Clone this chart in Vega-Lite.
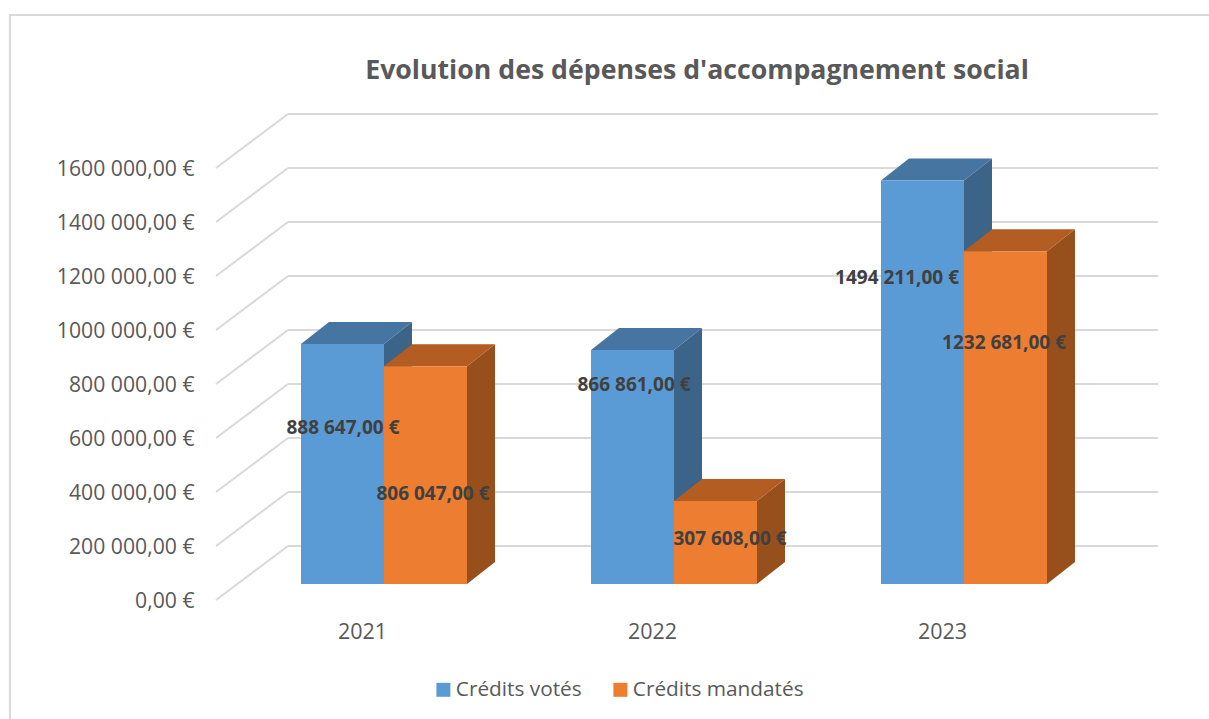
{"$schema":"https://vega.github.io/schema/vega-lite/v6.json","autosize":{"type":"none"},"width":942,"height":486,"padding":{"left":216,"top":114,"right":51,"bottom":119},"background":"white","title":{"text":"Evolution des dépenses d'accompagnement social","font":"Open Sans","fontSize":26.7,"fontWeight":"bold","color":"#595959","anchor":"middle","dx":10,"offset":-71,"frame":"group"},"config":{"view":{"stroke":null},"font":"Open Sans"},"resolve":{"axis":{"x":"independent","y":"independent"}},"datasets":{"bars":[{"year":2021,"series":"Crédits votés","value":888647},{"year":2021,"series":"Crédits mandatés","value":806047},{"year":2022,"series":"Crédits votés","value":866861},{"year":2022,"series":"Crédits mandatés","value":307608},{"year":2023,"series":"Crédits votés","value":1494211},{"year":2023,"series":"Crédits mandatés","value":1232681}],"grid":[{"v":0},{"v":200000},{"v":400000},{"v":600000},{"v":800000},{"v":1000000},{"v":1200000},{"v":1400000},{"v":1600000}]},"layer":[{"data":{"values":[{"k":1}]},"mark":{"type":"rect","filled":false,"stroke":"#d9d9d9","strokeWidth":2},"encoding":{"x":{"datum":2019.786,"type":"quantitative","scale":{"domain":[2020.49655,2023.74483],"nice":false,"zero":false},"axis":null},"x2":{"datum":2024.5},"y":{"datum":2166667,"type":"quantitative","scale":{"domain":[0,1800000],"nice":false},"axis":null},"y2":{"datum":-900000}}},{"data":{"name":"grid"},"transform":[{"calculate":"2020.49655","as":"xa"},{"calculate":"2020.74483","as":"xb"},{"calculate":"datum.v+200000","as":"v2"}],"mark":{"type":"rule","color":"#d9d9d9","strokeWidth":2},"encoding":{"x":{"field":"xa","type":"quantitative","scale":{"domain":[2020.49655,2023.74483],"nice":false,"zero":false},"axis":{"title":null,"values":[2021,2022,2023],"format":"d","grid":false,"domain":false,"ticks":false,"labelPadding":21,"labelFont":"Open Sans","labelFontSize":21.5,"labelColor":"#595959"}},"x2":{"field":"xb"},"y":{"field":"v","type":"quantitative","scale":{"domain":[0,1800000],"nice":false},"axis":{"title":null,"values":[0,200000,400000,600000,800000,1000000,1200000,1400000,1600000],"labelExpr":"datum.value==0?'0,00 €':floor(datum.value/1000)+' 000,00 €'","grid":false,"domain":false,"ticks":false,"labelPadding":22,"labelOffset":1.5,"labelFont":"Open Sans","labelFontSize":21.2,"labelColor":"#595959"}},"y2":{"field":"v2"}}},{"data":{"name":"grid"},"transform":[{"calculate":"2020.74483","as":"xb"},{"calculate":"2023.74483","as":"xc"},{"calculate":"datum.v+200000","as":"v2"}],"mark":{"type":"rule","color":"#d9d9d9","strokeWidth":2},"encoding":{"x":{"field":"xb","type":"quantitative","scale":{"domain":[2020.49655,2023.74483],"nice":false,"zero":false},"axis":null},"x2":{"field":"xc"},"y":{"field":"v2","type":"quantitative","scale":{"domain":[0,1800000],"nice":false},"axis":null}}},{"data":{"name":"bars"},"transform":[{"filter":"datum.series=='Crédits votés'"},{"calculate":"[0,1]","as":"t"},{"flatten":["t"]},{"calculate":"datum.year+0.07586+datum.t*0.09655","as":"px"},{"calculate":"59259+datum.t*81481","as":"py"},{"calculate":"59259+datum.value+datum.t*81481","as":"py2"}],"mark":{"type":"area","color":"#3B6488","orient":"vertical"},"encoding":{"detail":{"field":"year"},"x":{"field":"px","type":"quantitative","scale":{"domain":[2020.49655,2023.74483],"nice":false,"zero":false},"axis":null},"y":{"field":"py","type":"quantitative","scale":{"domain":[0,1800000],"nice":false},"axis":null},"y2":{"field":"py2"}}},{"data":{"name":"bars"},"transform":[{"filter":"datum.series=='Crédits votés'"},{"calculate":"[0,1]","as":"t"},{"flatten":["t"]},{"calculate":"datum.year-0.21034+datum.t*0.09655","as":"px"},{"calculate":"datum.year+0.07586+datum.t*0.09655","as":"px2"},{"calculate":"59259+datum.value+datum.t*81481","as":"py"}],"mark":{"type":"area","color":"#4675A1","orient":"horizontal"},"encoding":{"detail":{"field":"year"},"x":{"field":"px","type":"quantitative","scale":{"domain":[2020.49655,2023.74483],"nice":false,"zero":false},"axis":null},"x2":{"field":"px2"},"y":{"field":"py","type":"quantitative","scale":{"domain":[0,1800000],"nice":false},"axis":null}}},{"data":{"name":"bars"},"transform":[{"filter":"datum.series=='Crédits mandatés'"},{"calculate":"[0,1]","as":"t"},{"flatten":["t"]},{"calculate":"datum.year+0.36207+datum.t*0.09655","as":"px"},{"calculate":"59259+datum.t*81481","as":"py"},{"calculate":"59259+datum.value+datum.t*81481","as":"py2"}],"mark":{"type":"area","color":"#97501C","orient":"vertical"},"encoding":{"detail":{"field":"year"},"x":{"field":"px","type":"quantitative","scale":{"domain":[2020.49655,2023.74483],"nice":false,"zero":false},"axis":null},"y":{"field":"py","type":"quantitative","scale":{"domain":[0,1800000],"nice":false},"axis":null},"y2":{"field":"py2"}}},{"data":{"name":"bars"},"transform":[{"filter":"datum.series=='Crédits mandatés'"},{"calculate":"[0,1]","as":"t"},{"flatten":["t"]},{"calculate":"datum.year+0.07586+datum.t*0.09655","as":"px"},{"calculate":"datum.year+0.36207+datum.t*0.09655","as":"px2"},{"calculate":"59259+datum.value+datum.t*81481","as":"py"}],"mark":{"type":"area","color":"#B35D22","orient":"horizontal"},"encoding":{"detail":{"field":"year"},"x":{"field":"px","type":"quantitative","scale":{"domain":[2020.49655,2023.74483],"nice":false,"zero":false},"axis":null},"x2":{"field":"px2"},"y":{"field":"py","type":"quantitative","scale":{"domain":[0,1800000],"nice":false},"axis":null}}},{"data":{"name":"bars"},"transform":[{"calculate":"datum.year+(datum.series=='Crédits votés'?-0.21034:0.07586)","as":"x0"},{"calculate":"datum.x0+0.28621","as":"x1"},{"calculate":"59259","as":"y0"},{"calculate":"59259+datum.value","as":"y1"}],"mark":{"type":"rect"},"encoding":{"x":{"field":"x0","type":"quantitative","scale":{"domain":[2020.49655,2023.74483],"nice":false,"zero":false},"axis":null},"x2":{"field":"x1"},"y":{"field":"y0","type":"quantitative","scale":{"domain":[0,1800000],"nice":false},"axis":null},"y2":{"field":"y1"},"color":{"field":"series","type":"nominal","scale":{"domain":["Crédits votés","Crédits mandatés"],"range":["#5B9BD5","#ED7D31"]},"legend":{"title":null,"orient":"none","legendX":217,"legendY":565,"direction":"horizontal","columns":2,"symbolType":"square","symbolSize":196,"symbolStrokeWidth":0,"symbolOpacity":1,"labelFont":"Open Sans","labelFontSize":20.8,"labelColor":"#595959","labelOffset":2,"labelLimit":300,"columnPadding":28}}}},{"data":{"name":"bars"},"transform":[{"calculate":"datum.year+'|'+datum.series","as":"key"},{"calculate":"{'2021|Crédits votés':2020.9345,'2021|Crédits mandatés':2021.2448,'2022|Crédits votés':2021.938,'2022|Crédits mandatés':2022.269,'2023|Crédits votés':2022.845,'2023|Crédits mandatés':2023.214}[datum.key]","as":"lx"},{"calculate":"{'2021|Crédits votés':640741,'2021|Crédits mandatés':396296,'2022|Crédits votés':800000,'2022|Crédits mandatés':229630,'2023|Crédits votés':1196296,'2023|Crédits mandatés':955556}[datum.key]","as":"ly"},{"calculate":"floor(datum.value/1000)+' '+format(datum.value%1000,'03d')+',00 €'","as":"label"}],"mark":{"type":"text","font":"Open Sans","fontSize":19,"fontWeight":"bold","color":"#404040","align":"center","baseline":"middle","dy":1},"encoding":{"x":{"field":"lx","type":"quantitative","scale":{"domain":[2020.49655,2023.74483],"nice":false,"zero":false},"axis":null},"y":{"field":"ly","type":"quantitative","scale":{"domain":[0,1800000],"nice":false},"axis":null},"text":{"field":"label","type":"nominal"}}}]}
